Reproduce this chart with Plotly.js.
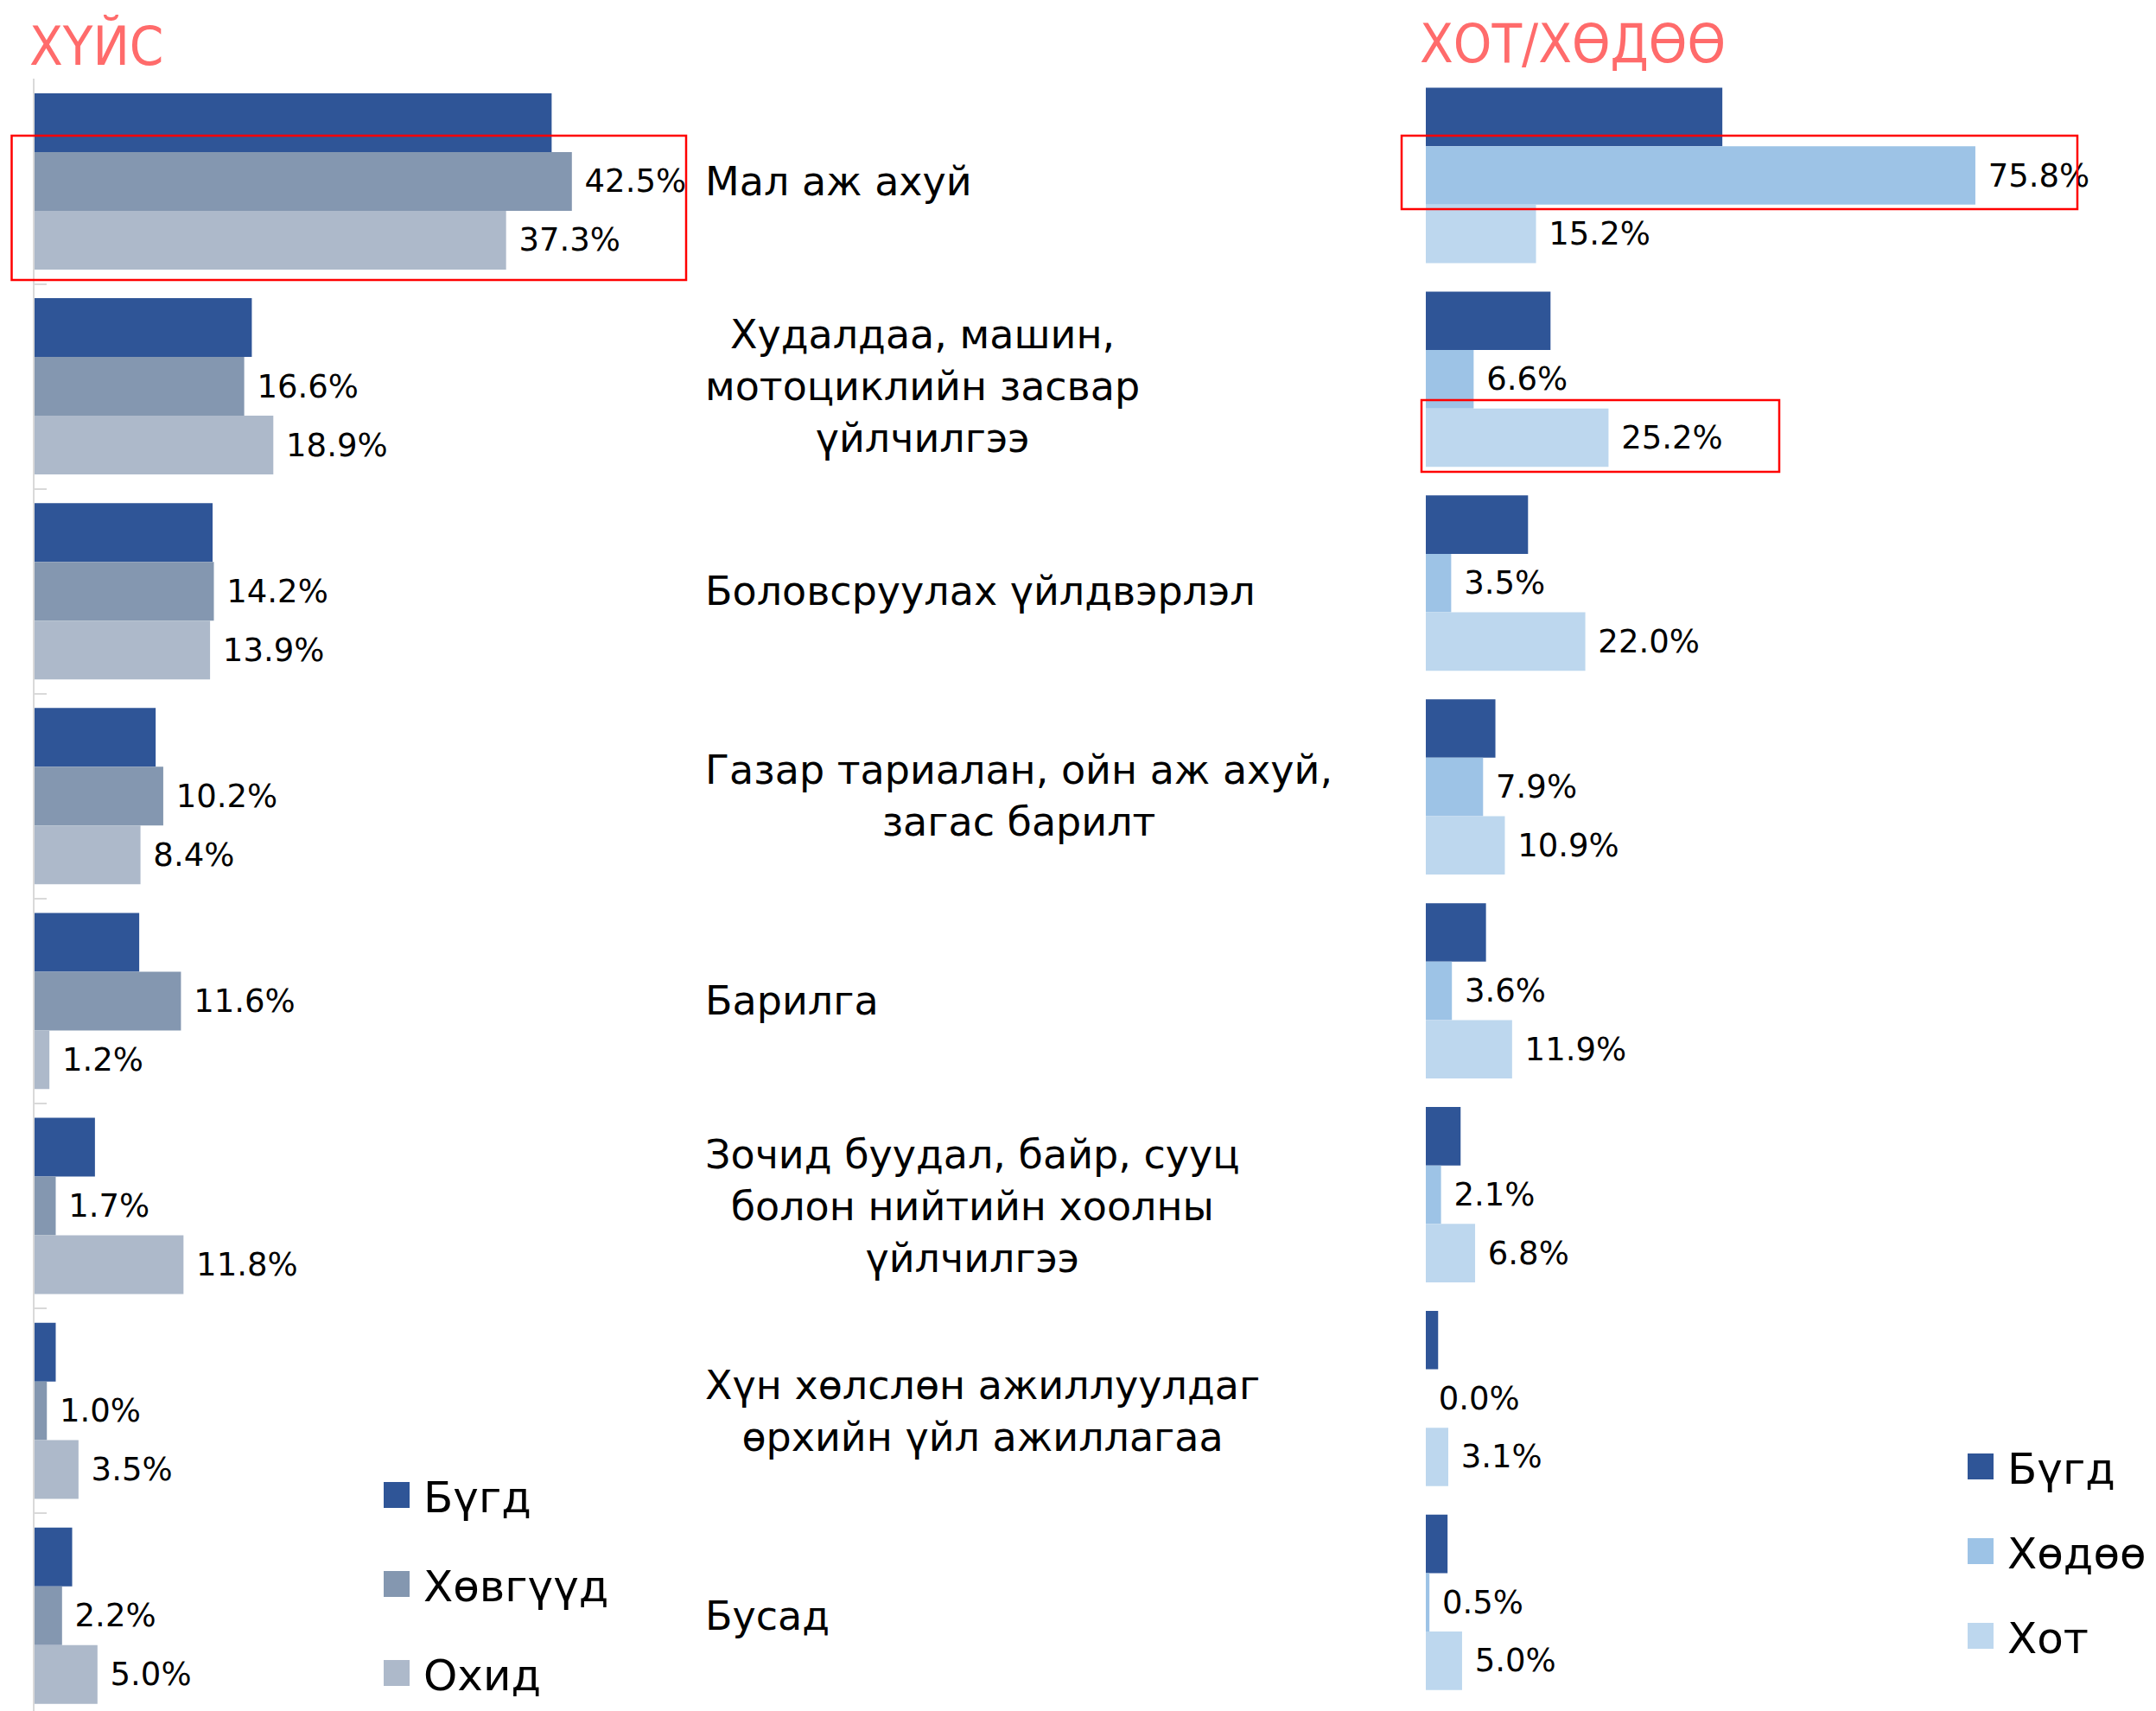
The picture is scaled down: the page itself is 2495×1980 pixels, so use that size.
<!DOCTYPE html>
<html>
<head>
<meta charset="utf-8">
<script src="https://cdn.plot.ly/plotly-3.0.1.min.js"></script>
<style>
  html, body { margin: 0; padding: 0; overflow: hidden; background: #ffffff; }
  #chart { width: 2495px; height: 1980px; }
</style>
</head>
<body>
<div id="chart"></div>
<script>
// ---------------- DATA ----------------
const categories = [
  'Мал аж ахуй',
  'Худалдаа, машин,<br>мотоциклийн засвар<br>үйлчилгээ',
  'Боловсруулах үйлдвэрлэл',
  'Газар тариалан, ойн аж ахуй,<br>загас барилт',
  'Барилга',
  'Зочид буудал, байр, сууц<br>болон нийтийн хоолны<br>үйлчилгээ',
  'Хүн хөлслөн ажиллуулдаг<br>өрхийн үйл ажиллагаа',
  'Бусад'
];
const total = [40.9, 17.2, 14.1, 9.6, 8.3, 4.8, 1.7, 3.0];   // Бүгд
const boys  = [42.5, 16.6, 14.2, 10.2, 11.6, 1.7, 1.0, 2.2];  // Хөвгүүд
const girls = [37.3, 18.9, 13.9, 8.4, 1.2, 11.8, 3.5, 5.0];   // Охид
const rural = [75.8, 6.6, 3.5, 7.9, 3.6, 2.1, 0.0, 0.5];      // Хөдөө
const urban = [15.2, 25.2, 22.0, 10.9, 11.9, 6.8, 3.1, 5.0];  // Хот

const seriesNames = { total: 'Бүгд', boys: 'Хөвгүүд', girls: 'Охид', rural: 'Хөдөө', urban: 'Хот' };
const titleLeft = 'ХҮЙС';
const titleRight = 'ХОТ/ХӨДӨӨ';

// ---------------- STYLE ----------------
const W = 2495, H = 1980;
const colors = { total: '#2F5597', boys: '#8497B0', girls: '#ADB9CA', rural: '#9DC3E6', urban: '#BDD7EE' };
const labelFont = { family: 'DejaVu Sans, Noto Sans, sans-serif', size: 37, color: '#000000' };
const catFont = { family: 'DejaVu Sans, Noto Sans, sans-serif', size: 46, color: '#000000' };
const legendFont = { family: 'DejaVu Sans, Liberation Sans, sans-serif', size: 50, color: '#000000' };
const titleFont = { family: 'Liberation Sans Narrow, DejaVu Sans Condensed, Liberation Sans, sans-serif', size: 63, color: '#FF6B6B' };

const px = v => v / W;
const py = v => 1 - v / H;
const fmt = arr => arr.map(v => '\u00A0' + v.toFixed(1) + '%');

function barTrace(name, values, color, xa, ya, legend, withText) {
  const t = {
    type: 'bar', orientation: 'h', name: name,
    x: values, y: categories,
    xaxis: xa, yaxis: ya, legend: legend, legendgroup: legend + name,
    marker: { color: color, line: { width: 0 } },
    hoverinfo: 'skip', cliponaxis: false
  };
  if (withText) {
    t.text = fmt(values);
    t.textposition = 'outside';
    t.textfont = labelFont;
    t.constraintext = 'none';
    t.textangle = 0;
  }
  return t;
}

const data = [
  barTrace(seriesNames.total, total, colors.total, 'x', 'y', 'legend', false),
  barTrace(seriesNames.boys, boys, colors.boys, 'x', 'y', 'legend', true),
  barTrace(seriesNames.girls, girls, colors.girls, 'x', 'y', 'legend', true),
  barTrace(seriesNames.total, total, colors.total, 'x2', 'y2', 'legend2', false),
  barTrace(seriesNames.rural, rural, colors.rural, 'x2', 'y2', 'legend2', true),
  barTrace(seriesNames.urban, urban, colors.urban, 'x2', 'y2', 'legend2', true)
];

const annotations = categories.map(c => ({
  xref: 'paper', yref: 'y', x: px(814), y: c,
  xanchor: 'left', yanchor: 'middle', align: 'center',
  text: c, showarrow: false, font: catFont
}));
annotations.push({ xref: 'paper', yref: 'paper', x: px(32), y: py(53), xanchor: 'left', yanchor: 'middle',
  text: titleLeft, showarrow: false, font: titleFont });
annotations.push({ xref: 'paper', yref: 'paper', x: px(1641), y: py(50), xanchor: 'left', yanchor: 'middle',
  text: titleRight, showarrow: false, font: titleFont });

const redBox = (x0, y0, x1, y1) => ({
  type: 'rect', xref: 'paper', yref: 'paper',
  x0: px(x0), x1: px(x1), y0: py(y1), y1: py(y0),
  line: { color: '#FF0000', width: 2.5 }, fillcolor: 'rgba(0,0,0,0)'
});

const layout = {
  width: W, height: H,
  margin: { l: 0, r: 0, t: 0, b: 0, pad: 0, autoexpand: false },
  paper_bgcolor: '#ffffff', plot_bgcolor: 'rgba(0,0,0,0)',
  barmode: 'group', bargap: 0.14, bargroupgap: 0,
  showlegend: true,
  xaxis: { domain: [px(39.6), px(39.6 + 50 * 14.64)], range: [0, 50], visible: false, fixedrange: true },
  yaxis: {
    domain: [0, py(91.4)], type: 'category', range: [7.465, -0.5], autorange: false,
    showline: true, linecolor: '#D9D9D9', linewidth: 2,
    ticks: 'inside', tickson: 'boundaries', ticklen: 14, tickcolor: '#D9D9D9', tickwidth: 2,
    showticklabels: false, showgrid: false, zeroline: false, fixedrange: true
  },
  xaxis2: { domain: [px(1650), px(1650 + 100 * 8.39)], range: [0, 100], visible: false, anchor: 'y2', fixedrange: true },
  yaxis2: {
    domain: [0, py(85.05)], type: 'category', range: [7.533, -0.5], autorange: false, anchor: 'x2',
    showline: false, ticks: '', showticklabels: false, showgrid: false, zeroline: false, fixedrange: true
  },
  legend: {
    x: px(428), y: py(1691), xanchor: 'left', yanchor: 'top',
    font: legendFont, itemwidth: 52, tracegroupgap: 35, traceorder: 'grouped',
    bgcolor: 'rgba(0,0,0,0)', borderwidth: 0
  },
  legend2: {
    x: px(2261), y: py(1658), xanchor: 'left', yanchor: 'top',
    font: legendFont, itemwidth: 52, tracegroupgap: 30, traceorder: 'grouped',
    bgcolor: 'rgba(0,0,0,0)', borderwidth: 0
  },
  annotations: annotations,
  shapes: [
    redBox(13.5, 157, 794, 324),
    redBox(1622, 157, 2404, 242),
    redBox(1645, 463, 2059, 546)
  ]
};

Plotly.newPlot('chart', data, layout, { displayModeBar: false, staticPlot: true }).then(gd => {
  gd.querySelectorAll('.legendpoints path').forEach(p => {
    const t = p.getAttribute('transform') || '';
    p.setAttribute('transform', t + ' scale(2.5)');
  });
});
</script>
</body>
</html>
